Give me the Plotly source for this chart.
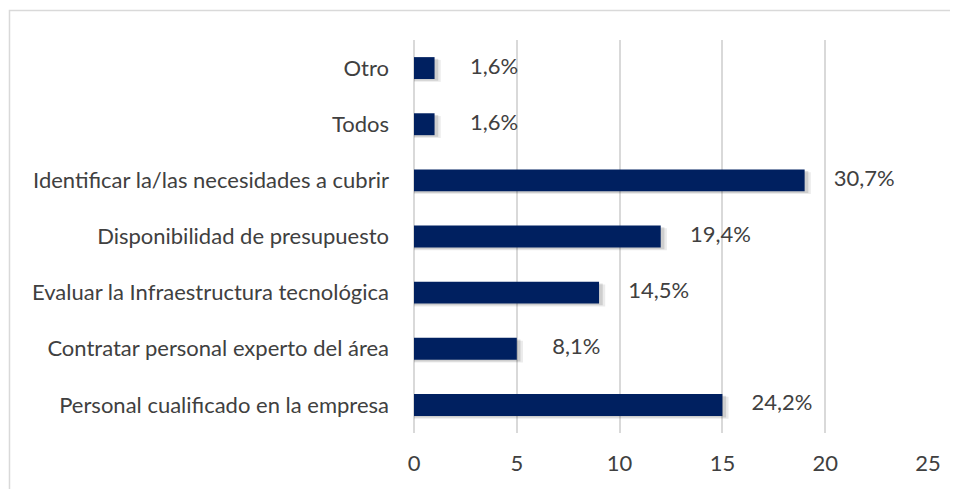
import plotly.graph_objects as go

# categories bottom -> top, as they appear in the chart
categorias = [
    "Personal cualificado en la empresa",
    "Contratar personal experto del área",
    "Evaluar la Infraestructura tecnológica",
    "Disponibilidad de presupuesto",
    "Identificar la/las necesidades a cubrir",
    "Todos",
    "Otro",
]
respuestas = [15, 5, 9, 12, 19, 1, 1]
etiquetas = ["24,2%", "8,1%", "14,5%", "19,4%", "30,7%", "1,6%", "1,6%"]
ticks_x = [0, 5, 10, 15, 20, 25]

azul = "#002060"
gris_texto = "#404040"
gris_rejilla = "#d9d9d9"
fuente = "Lato"
tam = 22

fig = go.Figure()

# soft shadow under each bar (Excel style), two faint layers
for extra, off, alpha in [(0.3, -0.245, 0.08), (0.18, -0.225, 0.12)]:
    fig.add_trace(go.Bar(
        y=categorias, x=[v + extra for v in respuestas], orientation="h",
        width=0.39, offset=off,
        marker=dict(color=f"rgba(0,0,0,{alpha})", line=dict(width=0)),
        hoverinfo="skip", showlegend=False,
    ))
fig.add_trace(go.Bar(
    y=categorias, x=respuestas, orientation="h",
    width=0.39, offset=-0.195,
    marker=dict(color=azul, line=dict(width=0)),
    showlegend=False,
))
# data labels placed a bit beyond the bar end
fig.add_trace(go.Scatter(
    y=categorias, x=[v + 2.9 for v in respuestas], mode="text",
    text=etiquetas, textposition="middle center",
    textfont=dict(family=fuente, size=tam, color=gris_texto),
    hoverinfo="skip", showlegend=False,
))

fig.update_layout(
    width=950, height=481,
    margin=dict(l=406, r=30, t=32, b=56),
    barmode="overlay",
    paper_bgcolor="white", plot_bgcolor="white",
    font=dict(family=fuente, size=tam, color=gris_texto),
    xaxis=dict(
        range=[0, 25], tickvals=ticks_x, showgrid=True, gridcolor=gris_rejilla,
        gridwidth=1.5, zeroline=True, zerolinecolor=gris_rejilla, zerolinewidth=1.5,
        showline=False, ticks="", ticklabelstandoff=15, fixedrange=True,
    ),
    yaxis=dict(
        categoryorder="array", categoryarray=categorias, showgrid=False,
        showline=False, ticks="", ticklabelstandoff=24, zeroline=False,
    ),
    shapes=[dict(
        type="rect", xref="paper", yref="paper",
        x0=-0.787, x1=1.08, y0=-0.2, y1=1.075,
        line=dict(color=gris_rejilla, width=1.5), fillcolor="rgba(0,0,0,0)",
        layer="below",
    )],
)

fig.write_html("out.html")
